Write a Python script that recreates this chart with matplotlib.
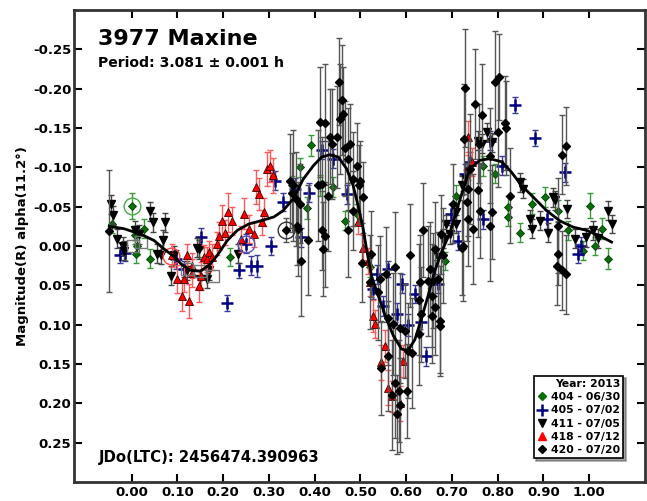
import numpy as np
import matplotlib
matplotlib.use('Agg')
import matplotlib.pyplot as plt
from matplotlib.lines import Line2D

plt.rcParams['font.family'] = ['DejaVu Sans']
plt.rcParams['font.weight'] = 'bold'
plt.rcParams['xtick.direction'] = 'in'
plt.rcParams['ytick.direction'] = 'in'

# session 404 - 06/30 (green diamonds): phase, magnitude, error
ph404 = [0.000, -0.044, 0.011, 0.027, 0.007, 0.040, 0.009, 0.148, 0.215, 0.393,
         0.368, 0.384, 0.411, 0.350, 0.439, 0.466, 0.492, 0.521, 0.685, 0.708,
         0.767, 0.794, 0.823, 0.823, 0.849, 0.876, 0.903, 0.932, 0.954, 1.002,
         1.012, 1.029, 1.042, 0.987]
mag404 = [-0.051, -0.028, 0.000, -0.022, -0.014, 0.016, 0.010, 0.002, 0.014, -0.128,
          -0.100, -0.048, -0.077, -0.077, -0.075, -0.032, -0.041, 0.027, 0.019, -0.064,
          -0.102, -0.092, -0.049, -0.037, -0.017, -0.054, -0.062, -0.045, -0.020, -0.051,
          0.000, -0.022, 0.016, 0.006]
err404 = [0.017, 0.012, 0.012, 0.012, 0.012, 0.012, 0.012, 0.012, 0.012, 0.013,
          0.012, 0.014, 0.013, 0.012, 0.013, 0.012, 0.013, 0.012, 0.012, 0.013,
          0.013, 0.012, 0.014, 0.012, 0.012, 0.013, 0.013, 0.013, 0.012, 0.016,
          0.012, 0.013, 0.013, 0.012]

# session 405 - 07/02 (blue crosses)
ph405 = [-0.026, -0.015, 0.096, 0.114, 0.151, 0.208, 0.234, 0.249, 0.260, 0.274,
         0.304, 0.313, 0.331, 0.357, 0.388, 0.371, 0.417, 0.441, 0.470, 0.528,
         0.537, 0.550, 0.561, 0.579, 0.590, 0.604, 0.619, 0.633, 0.644, 0.670,
         0.699, 0.714, 0.728, 0.739, 0.768, 0.783, 0.809, 0.838, 0.881, 0.907,
         0.947, 0.983, 0.976]
mag405 = [0.011, 0.009, 0.017, 0.029, -0.011, 0.072, 0.031, -0.003, 0.025, 0.025,
          0.000, -0.083, -0.056, -0.073, -0.068, -0.011, -0.122, -0.111, -0.066, 0.055,
          0.036, 0.076, 0.029, 0.087, 0.048, 0.101, 0.061, 0.097, 0.140, 0.048,
          -0.041, -0.007, -0.092, -0.107, -0.034, -0.134, -0.102, -0.179, -0.137, -0.034,
          -0.094, 0.000, 0.010]
err405 = [0.010, 0.010, 0.012, 0.010, 0.012, 0.010, 0.010, 0.012, 0.012, 0.014,
          0.012, 0.012, 0.012, 0.013, 0.012, 0.012, 0.012, 0.012, 0.012, 0.012,
          0.012, 0.013, 0.010, 0.014, 0.012, 0.014, 0.012, 0.014, 0.012, 0.012,
          0.012, 0.012, 0.012, 0.012, 0.012, 0.012, 0.012, 0.010, 0.010, 0.012,
          0.012, 0.012, 0.012]

# session 411 - 07/05 (black down triangles)
ph411 = [-0.046, -0.041, -0.033, -0.018, -0.017, 0.007, 0.016, 0.040, 0.046, 0.055,
         0.065, 0.068, 0.073, 0.085, 0.092, 0.122, 0.142, 0.147, 0.149, 0.165,
         0.169, 0.232, 0.670, 0.681, 0.696, 0.688, 0.710, 0.710, 0.721, 0.730,
         0.757, 0.766, 0.776, 0.787, 0.849, 0.856, 0.870, 0.876, 0.892, 0.909,
         0.921, 0.925, 0.951, 0.969, 0.994, 1.009, 1.020, 1.042, 1.049]
mag411 = [-0.053, -0.039, -0.009, 0.000, 0.006, -0.020, -0.015, -0.044, -0.030, 0.010,
          0.011, -0.008, -0.030, 0.038, 0.012, 0.031, 0.002, 0.004, 0.042, 0.042,
          0.031, 0.010, 0.014, -0.009, -0.015, -0.028, -0.028, -0.043, -0.077, -0.085,
          -0.134, -0.130, -0.145, -0.132, -0.081, -0.073, -0.034, -0.022, -0.032, -0.017,
          -0.062, -0.058, -0.047, -0.009, -0.011, -0.020, -0.010, -0.045, -0.028]
err411 = [0.012] * len(ph411)

# session 418 - 07/12 (red triangles)
ph418 = [0.089, 0.100, 0.111, 0.114, 0.122, 0.125, 0.132, 0.132, 0.147, 0.151,
         0.158, 0.165, 0.169, 0.176, 0.187, 0.191, 0.198, 0.205, 0.210, 0.220,
         0.238, 0.245, 0.256, 0.267, 0.271, 0.278, 0.285, 0.289, 0.295, 0.302,
         0.309, 0.495, 0.506, 0.517, 0.521, 0.527, 0.532, 0.546, 0.553, 0.561,
         0.568, 0.586, 0.594, 0.736, 0.743, 0.736]
mag418 = [0.012, 0.042, 0.063, 0.042, 0.012, 0.070, 0.025, 0.034, 0.051, 0.038,
          0.014, 0.017, 0.008, 0.014, -0.003, -0.013, -0.032, -0.017, -0.043, -0.032,
          -0.009, -0.041, -0.022, -0.015, -0.075, -0.066, -0.030, -0.043, -0.098, -0.102,
          -0.090, -0.030, 0.002, 0.019, 0.046, 0.089, 0.099, 0.148, 0.127, 0.180,
          0.191, 0.200, 0.146, -0.139, -0.107, -0.100]
err418 = [0.015, 0.018, 0.020, 0.016, 0.015, 0.022, 0.016, 0.018, 0.020, 0.018,
          0.015, 0.016, 0.015, 0.016, 0.015, 0.018, 0.020, 0.016, 0.025, 0.018,
          0.016, 0.020, 0.018, 0.016, 0.022, 0.020, 0.016, 0.018, 0.022, 0.020,
          0.022, 0.015, 0.016, 0.016, 0.018, 0.020, 0.018, 0.022, 0.020, 0.022,
          0.020, 0.022, 0.020, 0.020, 0.018, 0.016]

# session 420 - 07/20 (black diamonds)
ph420 = [-0.050, 0.337, 0.361, 0.364, 0.386, 0.346, 0.353, 0.350, 0.359, 0.368,
         0.408, 0.415, 0.411, 0.422, 0.433, 0.437, 0.448, 0.454, 0.459, 0.462,
         0.455, 0.466, 0.473, 0.477, 0.492, 0.499, 0.506, 0.473, 0.430, 0.422,
         0.419, 0.371, 0.415, 0.484, 0.497, 0.484, 0.503, 0.524, 0.521, 0.539,
         0.543, 0.557, 0.575, 0.608, 0.561, 0.572, 0.586, 0.597, 0.604, 0.612,
         0.561, 0.546, 0.575, 0.584, 0.601, 0.568, 0.586, 0.581, 0.630, 0.627,
         0.633, 0.627, 0.637, 0.652, 0.648, 0.659, 0.656, 0.663, 0.656, 0.674,
         0.674, 0.670, 0.663, 0.677, 0.736, 0.746, 0.725, 0.728, 0.750, 0.765,
         0.726, 0.760, 0.794, 0.803, 0.801, 0.816, 0.819, 0.783, 0.757, 0.739,
         0.736, 0.732, 0.761, 0.788, 0.783, 0.827, 0.941, 0.949, 0.932, 0.929,
         0.932, 0.940, 0.949, 0.723, 0.703, 0.681]
mag420 = [-0.019, -0.020, -0.026, -0.022, -0.008, -0.083, -0.077, -0.068, -0.060, -0.054,
          -0.077, -0.079, -0.158, -0.156, -0.139, -0.130, -0.139, -0.209, -0.186, -0.168,
          -0.162, -0.124, -0.111, -0.130, -0.102, -0.083, -0.062, -0.020, -0.064, -0.013,
          0.004, 0.019, -0.020, -0.085, -0.078, -0.045, 0.021, 0.010, 0.046, 0.059,
          0.042, 0.036, 0.027, 0.012, 0.091, 0.099, 0.104, 0.108, 0.133, 0.136,
          0.140, 0.155, 0.174, 0.184, 0.184, 0.189, 0.202, 0.214, 0.046, 0.068,
          0.087, 0.112, -0.020, 0.029, 0.044, 0.044, 0.063, 0.078, 0.089, 0.095,
          0.102, 0.042, 0.004, -0.015, -0.034, -0.022, 0.000, -0.201, -0.181, -0.167,
          -0.136, -0.130, -0.208, -0.215, -0.145, -0.156, -0.150, -0.115, -0.071, -0.098,
          -0.073, -0.056, -0.045, -0.043, -0.026, -0.064, -0.116, -0.127, -0.026, 0.025,
          0.010, 0.031, 0.036, 0.002, -0.054, 0.012]
err420 = [0.077, 0.015, 0.050, 0.060, 0.070, 0.060, 0.070, 0.050, 0.060, 0.050,
          0.070, 0.060, 0.070, 0.075, 0.060, 0.070, 0.065, 0.055, 0.070, 0.060,
          0.070, 0.060, 0.065, 0.050, 0.055, 0.050, 0.045, 0.060, 0.070, 0.065,
          0.060, 0.070, 0.050, 0.060, 0.050, 0.050, 0.050, 0.055, 0.060, 0.060,
          0.055, 0.060, 0.070, 0.065, 0.060, 0.065, 0.070, 0.060, 0.060, 0.070,
          0.070, 0.060, 0.070, 0.065, 0.060, 0.070, 0.060, 0.050, 0.060, 0.070,
          0.060, 0.065, 0.060, 0.060, 0.070, 0.060, 0.065, 0.060, 0.060, 0.070,
          0.060, 0.060, 0.060, 0.050, 0.060, 0.070, 0.070, 0.075, 0.070, 0.065,
          0.070, 0.050, 0.065, 0.055, 0.070, 0.060, 0.060, 0.060, 0.060, 0.070,
          0.060, 0.050, 0.060, 0.060, 0.070, 0.060, 0.050, 0.050, 0.060, 0.050,
          0.040, 0.050, 0.050, 0.060, 0.050, 0.060]

# open squares (rejected points)
ph_rej = [0.004, 0.020, 0.120, 0.150, 0.178]
mag_rej = [0.000, -0.005, 0.029, 0.032, 0.038]

# first point of each session (circled)
ph_first = [0.000, 0.085, 0.249, 0.337]
mag_first = [-0.051, 0.013, -0.003, -0.020]
col_first = ['#44aa44', '#ff4444', '#5555bb', '#333333']

# fourier fit
fit_ph = [-0.049, -0.017, 0.020, 0.049, 0.071, 0.092, 0.110, 0.130, 0.150, 0.170,
          0.187, 0.209, 0.231, 0.256, 0.282, 0.311, 0.331, 0.353, 0.375, 0.397,
          0.415, 0.433, 0.452, 0.470, 0.484, 0.495, 0.506, 0.514, 0.524, 0.539,
          0.557, 0.572, 0.590, 0.604, 0.619, 0.633, 0.648, 0.663, 0.677, 0.696,
          0.718, 0.739, 0.761, 0.783, 0.809, 0.830, 0.852, 0.878, 0.907, 0.936,
          0.965, 0.994, 1.023, 1.049]
fit_mag = [-0.025, -0.022, -0.015, -0.007, 0.004, 0.013, 0.024, 0.031, 0.032, 0.024,
           0.012, -0.007, -0.020, -0.028, -0.032, -0.037, -0.045, -0.060, -0.085, -0.102,
           -0.113, -0.116, -0.113, -0.098, -0.077, -0.051, -0.022, 0.006, 0.038, 0.063,
           0.093, 0.114, 0.131, 0.133, 0.119, 0.093, 0.063, 0.031, 0.008, -0.017,
           -0.060, -0.098, -0.109, -0.111, -0.107, -0.094, -0.077, -0.062, -0.045, -0.032,
           -0.024, -0.020, -0.013, -0.005]

xticks = [0.0, 0.1, 0.2, 0.3, 0.4, 0.5, 0.6, 0.7, 0.8, 0.9, 1.0]
yticks = [-0.25, -0.20, -0.15, -0.10, -0.05, 0.0, 0.05, 0.10, 0.15, 0.20, 0.25]

fig = plt.figure(figsize=(6.47, 5.01), dpi=100)
ax = fig.add_axes([0.1144, 0.0379, 0.8825, 0.9421])

ebkw = dict(fmt='none', elinewidth=1.0, capsize=2.5, capthick=1.0)
ax.errorbar(ph404, mag404, yerr=err404, ecolor='#3a9a3a', **ebkw)
ax.plot(ph404, mag404, 'D', color='#0a6e0a', ms=4.5, mec='#054005', mew=0.6, ls='none')
ax.errorbar(ph405, mag405, yerr=err405, ecolor='#3a3a9a', **ebkw)
ax.plot(ph405, mag405, '+', color='#000080', ms=9, mew=1.8, ls='none')
ax.errorbar(ph411, mag411, yerr=err411, ecolor='#444444', **ebkw)
ax.plot(ph411, mag411, 'v', color='black', ms=6, ls='none')
ax.errorbar(ph418, mag418, yerr=err418, ecolor='#ff5a5a', **ebkw)
ax.plot(ph418, mag418, '^', color='#ff0000', ms=6, mec='#400000', mew=0.6, ls='none')
ax.errorbar(ph420, mag420, yerr=err420, ecolor='#555555', **ebkw)
ax.plot(ph420, mag420, 'D', color='black', ms=4.5, ls='none')
ax.plot(ph_rej, mag_rej, 's', mfc='none', mec='#777777', ms=9, mew=1.0, ls='none')
for p, m, c in zip(ph_first, mag_first, col_first):
    ax.plot(p, m, 'o', mfc='none', mec=c, ms=12, mew=1.0)

ax.plot(fit_ph, fit_mag, color='black', lw=2)

ax.set_xlim(-0.126, 1.122)
ax.set_ylim(0.30, -0.30)
ax.set_xticks(xticks)
ax.set_xticklabels(['%.2f' % t for t in xticks])
ax.set_yticks(yticks)
ax.set_yticklabels(['%.2f' % t for t in yticks])
ax.tick_params(top=True, right=True, length=6, width=1.5, labelsize=9.5, pad=3)
ax.tick_params(axis='y', pad=2)
for s in ax.spines.values():
    s.set_linewidth(2)
    s.set_color('#333333')

ax.set_ylabel(u'Magnitude(R) alpha(11.2\u00b0)', fontsize=9.5, fontweight='bold', labelpad=3)

ax.text(0.042, 0.926, '3977 Maxine', transform=ax.transAxes, fontsize=16, fontweight='bold')
ax.text(0.042, 0.880, u'Period: 3.081 \u00b1 0.001 h', transform=ax.transAxes,
        fontsize=10.1, fontweight='bold')
ax.text(0.044, 0.043, 'JDo(LTC): 2456474.390963', transform=ax.transAxes,
        fontsize=10.7, fontweight='bold')

handles = [
    Line2D([], [], ls='none', marker='D', color='#0a6e0a', ms=4.5),
    Line2D([], [], ls='none', marker='+', color='#000080', ms=9, mew=1.8),
    Line2D([], [], ls='none', marker='v', color='black', ms=6),
    Line2D([], [], ls='none', marker='^', color='#ff0000', ms=6),
    Line2D([], [], ls='none', marker='D', color='black', ms=4.5),
]
labels = ['404 - 06/30', '405 - 07/02', '411 - 07/05', '418 - 07/12', '420 - 07/20']
leg = ax.legend(handles, labels, title='Year: 2013', loc='lower right',
                bbox_to_anchor=(0.962, 0.05), frameon=True, fancybox=False,
                shadow=True, edgecolor='black', framealpha=1, fontsize=7.8,
                title_fontsize=7.8, handlelength=0.9, handletextpad=0.4,
                labelspacing=0.3, borderpad=0.3, borderaxespad=0,
                alignment='right')
leg.get_title().set_fontweight('bold')
leg.get_frame().set_linewidth(1.2)

fig.savefig('out.png', dpi=100)
